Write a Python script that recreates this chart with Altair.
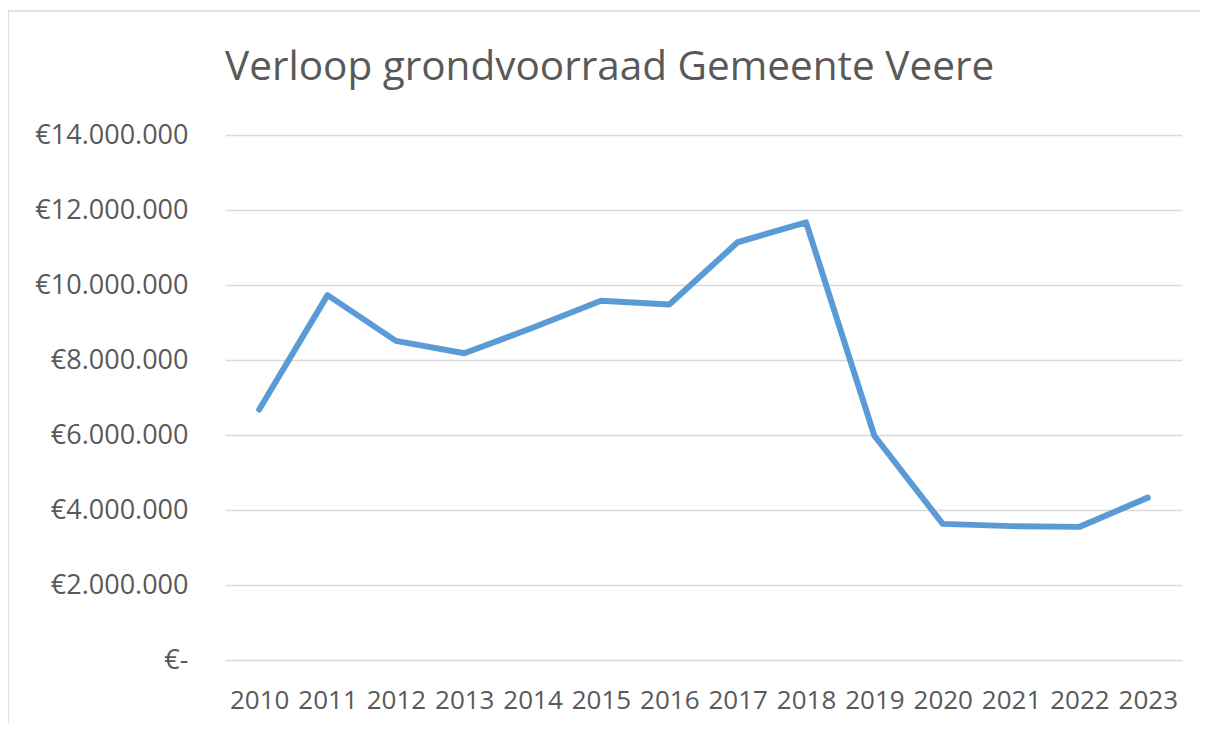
import altair as alt
import pandas as pd

years = ["2010", "2011", "2012", "2013", "2014", "2015", "2016",
         "2017", "2018", "2019", "2020", "2021", "2022", "2023"]
values = [6680000, 9730000, 8510000, 8180000, 8860000, 9580000, 9480000,
          11140000, 11670000, 5980000, 3630000, 3570000, 3550000, 4330000]
y_ticks = [0, 2000000, 4000000, 6000000, 8000000, 10000000, 12000000, 14000000]

df = pd.DataFrame({"jaar": years, "waarde": values})

TEXT = "#595959"
FONT = "Open Sans"
BORDER = "#d9d9d9"

line = alt.Chart(df).mark_line(
    color="#5B9BD5", strokeWidth=6, strokeCap="round", strokeJoin="round"
).encode(
    x=alt.X("jaar:O",
            scale=alt.Scale(type="point", padding=0.5),
            axis=alt.Axis(title=None, labelAngle=0, ticks=False, domain=False,
                          grid=False, labelPadding=27, labelFontSize=26,
                          labelColor=TEXT, labelFont=FONT)),
    y=alt.Y("waarde:Q",
            scale=alt.Scale(domain=[0, 14000000], nice=False),
            axis=alt.Axis(title=None, values=y_ticks, ticks=False, domain=False,
                          grid=True, gridColor="#d9d9d9", gridWidth=1.5,
                          labelPadding=37, labelFontSize=27, labelColor=TEXT,
                          labelFont=FONT,
                          labelExpr="datum.value == 0 ? '€-' : '€' + replace(format(datum.value, ',.0f'), /,/g, '.')"))
)

one = pd.DataFrame({"k": [0]})
left_edge = alt.Chart(one).mark_rule(color=BORDER, strokeWidth=1.5).encode(
    x=alt.value(-217), y=alt.value(-124), y2=alt.value(700)
)
top_edge = alt.Chart(one).mark_rule(color=BORDER, strokeWidth=1.5).encode(
    x=alt.value(-217), x2=alt.value(1100), y=alt.value(-124)
)

chart = alt.layer(left_edge, top_edge, line).properties(
    width=957, height=525,
    background="white",
    padding={"left": 217, "top": 127, "right": 18, "bottom": 63},
    autosize=alt.AutoSizeParams(type="none"),
    title=alt.TitleParams("Verloop grondvoorraad Gemeente Veere",
                          anchor="start", frame="group", fontSize=40.5,
                          font=FONT, color=TEXT, fontWeight="normal",
                          baseline="alphabetic", offset=0, dy=110)
).configure_view(strokeWidth=0)

chart.save("out.html", embed_options={"renderer": "svg", "actions": False})
